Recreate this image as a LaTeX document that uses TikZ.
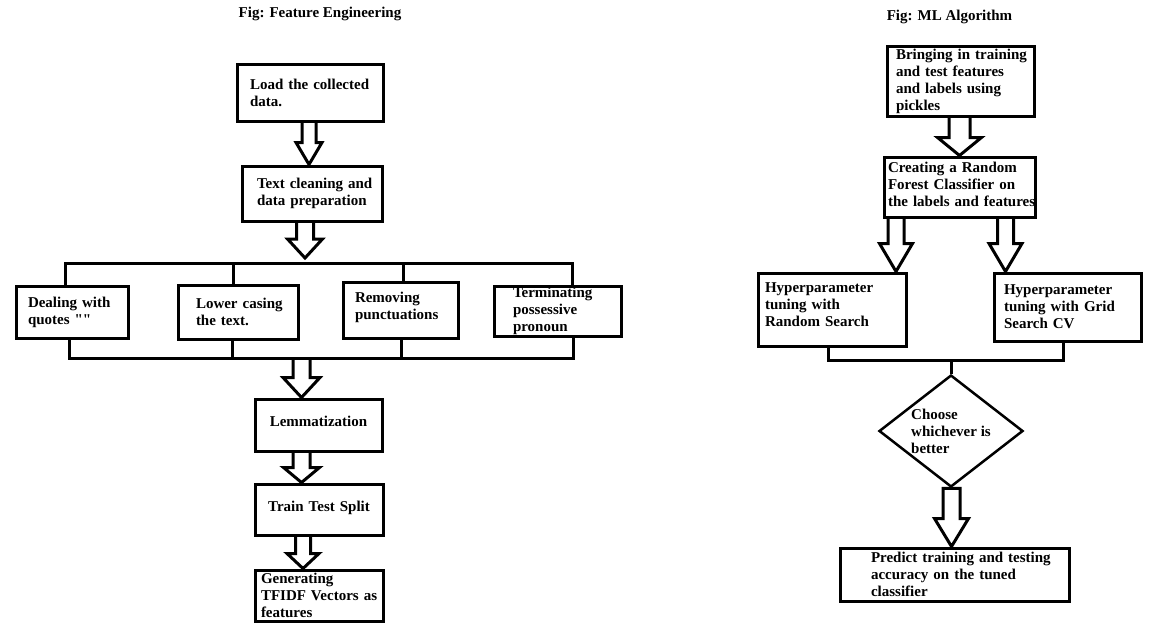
\documentclass[tikz,border=0pt]{standalone}
\usepackage{fontspec}
\setmainfont{Liberation Serif}
\newfontfamily\rawserif{Liberation Serif}[Ligatures=TeXOff]
\usetikzlibrary{shapes.geometric,calc}
\tikzset{
  lab/.style={font=\fontsize{15}{17}\selectfont\bfseries, text=black},
  box/.style={draw, line width=3pt, align=left, inner xsep=0pt, inner ysep=0pt, lab},
  cbox/.style={box, align=center},
  bus/.style={line width=3pt, line join=miter},
  hollow/.style={line width=3pt, line join=miter},
  title/.style={lab, inner sep=0pt},
}
\newcommand{\hollowarrow}[6]{%
  \draw[hollow] let \p1=(#1), \p2=(#2) in
    ({#3pt-#4pt},\y1) -- ({#3pt-#4pt},{\y2+#6pt}) -- ({#3pt-#5pt},{\y2+#6pt})
    -- (#3pt,\y2) -- ({#3pt+#5pt},{\y2+#6pt}) -- ({#3pt+#4pt},{\y2+#6pt})
    -- ({#3pt+#4pt},\y1);}
\newcommand{\hollowarrowclosed}[6]{%
  \draw[hollow] let \p1=(#1), \p2=(#2) in
    ({#3pt-#4pt},\y1) -- ({#3pt-#4pt},{\y2+#6pt}) -- ({#3pt-#5pt},{\y2+#6pt})
    -- (#3pt,\y2) -- ({#3pt+#5pt},{\y2+#6pt}) -- ({#3pt+#4pt},{\y2+#6pt})
    -- ({#3pt+#4pt},\y1) -- cycle;}
\begin{document}
\begin{tikzpicture}[x=1pt,y=-1pt]
\fill[white] (0,0) rectangle (1156,640);
\useasboundingbox (0,0) rectangle (1156,640);

% ---------- Left: Feature Engineering ----------
\node[title] (t1) at (320,14) {Fig: Feature Engineering};

\node[box, minimum width=146pt, minimum height=57pt, text width=120pt] (load) at (310,92.5)
  {\mbox{Load the collected}\\data.};
\node[box, minimum width=140pt, minimum height=55pt, text width=110pt] (clean) at (312,193.5)
  {\mbox{Text cleaning and}\\\mbox{data preparation}};

\node[box, minimum width=112pt, minimum height=52pt, text width=88pt] (qa) at (72,312)
  {\mbox{Dealing with}\\quotes {\rawserif\bfseries ""}};
\node[box, minimum width=120pt, minimum height=54pt, text width=84pt] (qb) at (238,312)
  {\mbox{Lower casing}\\the text.};
\node[box, minimum width=115pt, minimum height=56pt, text width=91pt, text depth=26pt] (qc) at (400.5,310)
  {Removing\\\mbox{punctuations}};
\node[box, minimum width=127pt, minimum height=50pt, text width=89pt] (qd) at (557.5,311)
  {Terminating\\possessive\\pronoun};

\node[cbox, minimum width=127pt, minimum height=52pt, text width=110pt, text depth=7pt] (lemma) at (318.5,425)
  {Lemmatization};
\node[cbox, minimum width=128pt, minimum height=51pt, text width=110pt, text depth=7pt] (split) at (319,509.5)
  {Train Test Split};
\node[box, minimum width=128pt, minimum height=51pt, text width=116pt] (tfidf) at (319,595.5)
  {Generating\\\mbox{TFIDF Vectors as}\\features};

% buses
\coordinate (ta) at (65,263);
\coordinate (tb) at (233,263);
\coordinate (tc) at (403,263);
\coordinate (td) at (572,263);
\coordinate (tip2) at (305,258);
\draw[bus] (qa.north -| ta) -- (ta) -- (td) -- (qd.north -| td);
\draw[bus] (tb) -- (qb.north -| tb);
\draw[bus] (tc) -- (qc.north -| tc);

\coordinate (ba) at (69,358);
\coordinate (bb) at (232,358);
\coordinate (bc) at (401,358);
\coordinate (bd) at (573,358);
\coordinate (bm) at (301.5,358);
\draw[bus] (qa.south -| ba) -- (ba) -- (bd) -- (qd.south -| bd);
\draw[bus] (qb.south -| bb) -- (bb);
\draw[bus] (qc.south -| bc) -- (bc);

% hollow arrows
\hollowarrow{load.south}{clean.north}{309}{7}{13}{22}
\hollowarrow{clean.south}{tip2}{305}{8.5}{17.5}{19}
\hollowarrow{bm}{lemma.north}{301.5}{8.5}{18.5}{20}
\hollowarrow{lemma.south}{split.north}{301.5}{8.5}{18}{15}
\hollowarrow{split.south}{tfidf.north}{303}{7.5}{16}{15}

% ---------- Right: ML Algorithm ----------
\node[title] (t2) at (949.5,17) {Fig: ML Algorithm};

\node[box, minimum width=147pt, minimum height=70pt, text width=129pt] (bring) at (960.5,81)
  {\mbox{Bringing in training}\\\mbox{and test features}\\\mbox{and labels using}\\pickles};
\node[box, minimum width=151pt, minimum height=60pt, text width=143pt, text depth=40pt] (rf) at (959.5,187)
  {\mbox{Creating a Random}\\\mbox{Forest Classifier on}\\\mbox{the labels and features}};

\node[box, minimum width=148pt, minimum height=73pt, text width=134pt, text depth=43pt] (h1) at (832,309.5)
  {Hyperparameter\\tuning with\\\mbox{Random Search}};
\node[box, minimum width=147pt, minimum height=68pt, text width=127pt] (h2) at (1067.5,307)
  {Hyperparameter\\\mbox{tuning with Grid}\\Search CV};

\node[draw, diamond, shape aspect=1.2857, line width=2.5pt, lab, align=left, inner sep=0pt,
  minimum width=144pt, minimum height=112pt] (choose) at (951,431)
  {Choose\\whichever is\\better};

\node[box, minimum width=229pt, minimum height=53pt, text width=167pt] (pred) at (954.5,574.5)
  {\mbox{Predict training and testing}\\\mbox{accuracy on the tuned}\\classifier};

\coordinate (rb1) at (828,360);
\coordinate (rb2) at (1063,360);
\coordinate (rbm) at (951,360);
\draw[bus] (h1.south -| rb1) -- (rb1) -- (rb2) -- (h2.south -| rb2);
\draw[bus] (rbm) -- (choose.north);

\hollowarrow{bring.south}{rf.north}{959.5}{10.5}{22}{18}
\hollowarrow{rf.south}{h1.north}{896}{8}{16.5}{28}
\hollowarrow{rf.south}{h2.north}{1005.5}{8}{16.5}{28}
\hollowarrowclosed{choose.south}{pred.north}{951.5}{8.5}{17}{28}
\end{tikzpicture}
\end{document}
